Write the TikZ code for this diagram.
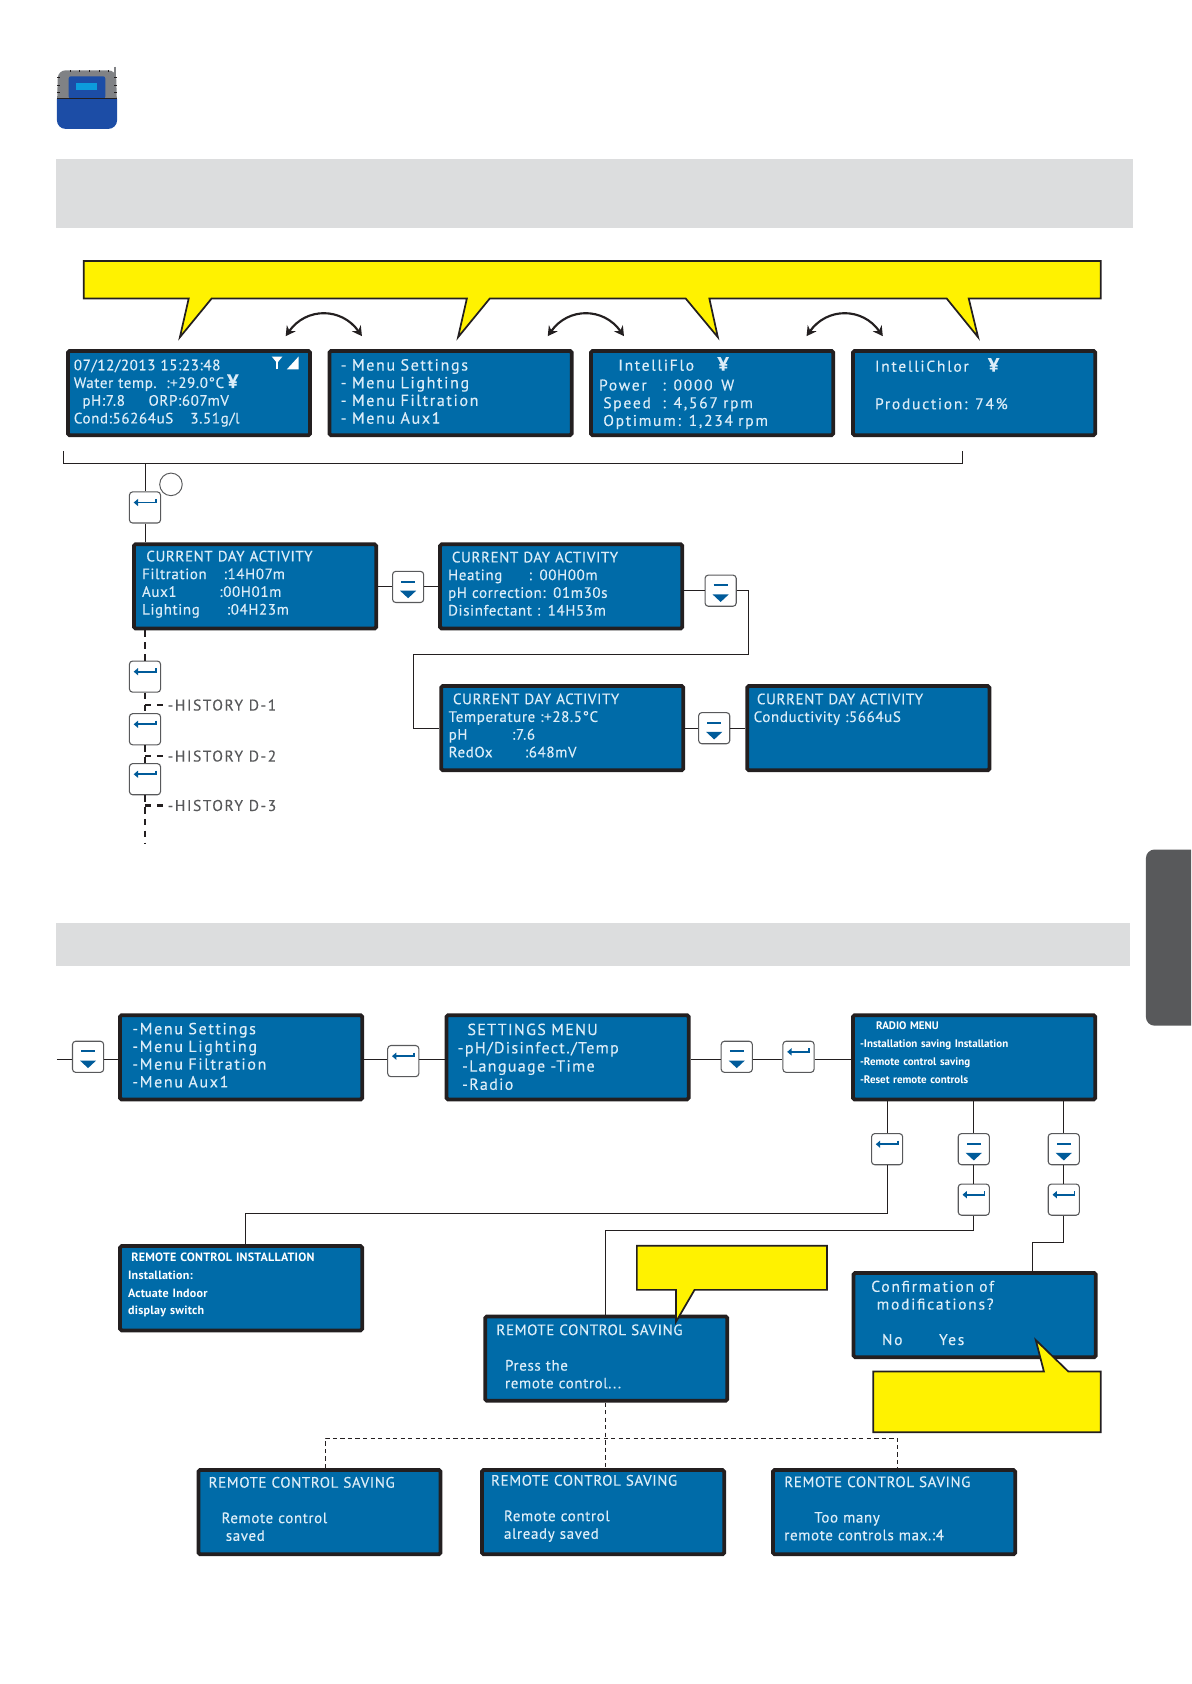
\documentclass[tikz,border=0pt]{standalone}
\usepackage{fontspec}
\usetikzlibrary{arrows.meta}
\setmainfont{PT Sans}
\newfontfamily\lcdfont[LetterSpace=4,FakeBold=0.25]{PT Sans}
\newfontfamily\lcdwide[LetterSpace=8,FakeBold=0.25]{PT Sans}
\newfontfamily\lcdwider[LetterSpace=10,FakeBold=0.25]{PT Sans}
\newfontfamily\lcdwidest[LetterSpace=11,FakeBold=0.25]{PT Sans}
\newfontfamily\lcdtight[LetterSpace=0]{PT Sans}
\definecolor{lcdblue}{HTML}{006BA8}
\definecolor{lcdtext}{HTML}{DCEDF8}
\definecolor{ink}{HTML}{231F20}
\definecolor{keyblue}{HTML}{005B9A}
\definecolor{keyline}{HTML}{58595B}
\definecolor{bandgrey}{HTML}{DCDDDE}
\definecolor{tabgrey}{HTML}{58595B}
\definecolor{noteyellow}{HTML}{FFF200}
\definecolor{devblue}{HTML}{1C4DA6}
\definecolor{devgrey}{HTML}{808285}
\definecolor{devcyan}{HTML}{0C9CDC}
\newcommand{\yenmark}{{\fontsize{18}{16.5}\selectfont\bfseries ¥}}
\newcommand{\liftup}[1]{\par\kern#1}
\tikzset{
	lcd/.style={draw=ink,fill=lcdblue,line width=3.5pt,rounded corners=1.5pt,minimum width=225.5pt,minimum height=78.5pt,
		inner xsep=5.5pt,inner ysep=0pt,text width=214.5pt,align=left,text=lcdtext,font=\lcdfont\fontsize{14}{16.5}\selectfont},
	keybox/.style={draw=keyline,fill=white,line width=1pt,rounded corners=3pt,minimum size=29pt,inner sep=0pt},
	enterkey/.style={keybox,path picture={
		\draw[sharp corners,keyblue,line width=1.7pt] ([xshift=10pt,yshift=8pt]path picture bounding box.center) -- ([xshift=10pt,yshift=4.6pt]path picture bounding box.center) -- ([xshift=-7pt,yshift=4.6pt]path picture bounding box.center);
		\fill[sharp corners,keyblue] ([xshift=-10.5pt,yshift=4.6pt]path picture bounding box.center) -- ([xshift=-6.5pt,yshift=8pt]path picture bounding box.center) -- ([xshift=-6.5pt,yshift=1.2pt]path picture bounding box.center) -- cycle;}},
	downkey/.style={keybox,path picture={
		\draw[sharp corners,keyblue,line width=1.8pt] ([xshift=-6.5pt,yshift=5pt]path picture bounding box.center) -- ([xshift=6.5pt,yshift=5pt]path picture bounding box.center);
		\fill[sharp corners,keyblue] ([xshift=-7.5pt,yshift=-3.5pt]path picture bounding box.center) -- ([xshift=7.5pt,yshift=-3.5pt]path picture bounding box.center) -- ([yshift=-10.5pt]path picture bounding box.center) -- cycle;}},
	wire/.style={draw=ink,line width=.9pt},
	dashwire/.style={draw=ink,line width=.9pt,dash pattern=on 4pt off 3pt},
	histwire/.style={draw=ink,line width=2.2pt,dash pattern=on 6pt off 5pt},
	callout/.style={draw=ink,fill=noteyellow,line width=1.6pt,line join=miter},
	histlabel/.style={anchor=west,inner sep=0pt,text=keyline,font=\lcdwider\fontsize{14.5}{16}\selectfont},
}
\begin{document}
\begin{tikzpicture}[x=1pt,y=-1pt]
	\useasboundingbox (0,0) rectangle (1109,1568);
	% device icon
	\draw[devgrey,line width=1.2pt] (107,62) -- (107,72);
	\fill[devgrey,rounded corners=7pt] (53,100) -- (54,65.5) -- (108,65.5) -- (109,100) -- cycle;
	\foreach \x in {65,74,83,92,101}
		\draw[ink,line width=.5pt] (\x,65.5) -- (\x,67.5);
	\foreach \y in {72,79,86}{
		\draw[ink,line width=.5pt] (53.5,\y) -- (55.5,\y);
		\draw[ink,line width=.5pt] (106.5,\y) -- (108.5,\y);
	}
	\fill[devblue] (109,92) [rounded corners=8pt] -- (109,120) -- (53,120) [sharp corners] -- (53,92) -- cycle;
	\fill[devblue,rounded corners=2pt] (64,71) -- (98,71) -- (98,92) -- (64,92) -- cycle;
	\fill[devcyan] (71,77) rectangle (90.5,84);
	\draw[ink,line width=.6pt] (53,92) -- (109,92);
	% grey bands and side tab
	\fill[bandgrey] (52,148) rectangle (1055,212);
	\fill[bandgrey] (52,859) rectangle (1052,899);
	\fill[tabgrey] (1109,955) [rounded corners=8pt] -- (1067,955) -- (1067,791) [sharp corners] -- (1109,791) -- cycle;

	% first row of screens
	\node[lcd] (home) at (176,366) {07/12/2013 15:23:48\\Water temp.\hspace{9pt}:+29.0°C\hspace{3pt}\yenmark\\\hspace*{8pt}pH:7.8\hspace{22pt}ORP:607mV\\Cond:56264uS\hspace{16pt}3.51g/l};
	\node[lcd,font=\lcdwider\fontsize{15}{16.5}\selectfont] (menu) at (419.5,366) {\hspace*{5pt}- Menu Settings\\\hspace*{5pt}- Menu Lighting\\\hspace*{5pt}- Menu Filtration\\\hspace*{5pt}- Menu Aux1\liftup{3pt}};
	\node[lcd,font=\lcdwidest\fontsize{14.5}{16.5}\selectfont] (flo) at (663,366) {\vspace*{2pt}\hspace*{20pt}IntelliFlo\hspace{22pt}\yenmark\\\hspace*{2pt}\makebox[59pt][l]{Power}: 0000\hspace{8pt}W\\\hspace*{6pt}\makebox[55pt][l]{Speed}: 4,567 rpm\\\hspace*{6pt}Optimum: 1,234 rpm};
	\node[lcd,font=\lcdwidest\fontsize{14.5}{16.5}\selectfont] (chlor) at (907,366) {\vspace*{2pt}\hspace*{15pt}IntelliChlor\hspace{18pt}\yenmark\\~\\\hspace*{15pt}Production: 74\%\\~\liftup{1pt}};
	\draw[white,line width=1.6pt] (258,344) -- (258,335);
	\fill[white] (253,332) -- (263,332) -- (258,338) -- cycle;
	\fill[white] (267,344) -- (278,344) -- (278,332) -- cycle;

	% swap arrows between the screens
	\foreach \x in {266,510,751}
		\draw[ink,line width=2pt,{Stealth[length=9pt,width=10pt]}-{Stealth[length=9pt,width=10pt]}] (\x,313) .. controls (\x+19,286) and (\x+52,286) .. (\x+71,313);
	% long note over the screens
	\draw[callout] (78,243) -- (1025,243) -- (1025,278) -- (902,278) -- (910.7,314) -- (881.5,278) -- (660.5,278) -- (668.4,314) -- (638.5,278) -- (456,278) -- (426.5,314) -- (434.7,278) -- (197,278) -- (167.5,314) -- (175.7,278) -- (78,278) -- cycle;

	% daily activity screens
	\coordinate (bracketL) at (59,420);
	\coordinate (bracketR) at (896,420);
	\coordinate (bracketbar) at (135,432);
	\draw[wire] (bracketL) -- ++(0,12) -| (bracketR);
	\node[enterkey] (keyA) at (135,472.5) {};
	\draw[wire,draw=keyline] (159.2,451) circle (10.5);
	\node[lcd] (actA) at (237.5,546) {\hspace*{6pt}CURRENT DAY ACTIVITY\\\hspace*{2pt}\makebox[76pt][l]{Filtration}:14H07m\\\hspace*{2pt}\makebox[72pt][l]{Aux1}:00H01m\\\hspace*{2pt}\makebox[79pt][l]{Lighting}:04H23m\liftup{4pt}};
	\node[lcd] (actB) at (522.5,546) {\hspace*{5.5pt}CURRENT DAY ACTIVITY\\\hspace*{2pt}\makebox[75pt][l]{Heating}: 00H00m\\\hspace*{2pt}pH correction: 01m30s\\\hspace*{2pt}Disinfectant : 14H53m\liftup{5pt}};
	\node[lcd] (actC) at (523.5,678) {\hspace*{5.5pt}CURRENT DAY ACTIVITY\\\hspace*{1.5pt}Temperature :+28.5°C\\\hspace*{1.5pt}\makebox[59pt][l]{pH}:7.6\\\hspace*{1.5pt}\makebox[71pt][l]{RedOx}:648mV\liftup{5pt}};
	\node[lcd] (actD) at (808.5,678) {\hspace*{3.5pt}CURRENT DAY ACTIVITY\\\hspace*{.5pt}Conductivity :5664uS\\~\\~\liftup{5pt}};
	\node[downkey] (keyD1) at (380,546.5) {};
	\node[downkey] (keyD2) at (671,550) {};
	\node[downkey] (keyD3) at (665,678) {};
	\coordinate (turnA) at (697,609);
	\coordinate (turnB) at (385,609);
	\draw[wire] (keyA |- bracketbar) -- (keyA.north);
	\draw[wire] (keyA.south) -- (keyA |- actA.north);
	\draw[wire] (keyD1 -| actA.east) -- (keyD1.west);
	\draw[wire] (keyD1.east) -- (keyD1 -| actB.west);
	\draw[wire] (keyD2 -| actB.east) -- (keyD2.west);
	\draw[wire] (keyD2.east) -| (turnA) -- (turnB) |- (actC.west);
	\draw[wire] (actC.east) -- (keyD3.west);
	\draw[wire] (keyD3.east) -- (actD.west);

	% history of previous days
	\node[enterkey] (keyB) at (135,630) {};
	\node[enterkey] (keyC) at (135,679) {};
	\node[enterkey] (keyE) at (135,725.5) {};
	\node[histlabel] (histA) at (156,656.5) {-HISTORY D-1};
	\node[histlabel] (histB) at (156,704) {-HISTORY D-2};
	\node[histlabel] (histC) at (156,750) {-HISTORY D-3};
	\coordinate (histend) at (135,786);
	\draw[histwire] (keyB |- actA.south) -- (keyB.north);
	\draw[histwire] (keyB.south) -- (keyC.north);
	\draw[histwire] (keyC.south) -- (keyE.north);
	\draw[histwire] (keyE.south) -- (histend);
	\draw[histwire] (keyB |- histA) -- (histA.west);
	\draw[histwire] (keyB |- histB) -- (histB.west);
	\draw[histwire] (keyB |- histC) -- (histC.west);

	% settings row
	\coordinate (rowstart) at (53,986.5);
	\node[downkey] (keyF) at (82,984) {};
	\node[lcd,font=\lcdwider\fontsize{15}{16.5}\selectfont] (menuB) at (224.5,984.5) {\hspace*{6pt}-Menu Settings\\\hspace*{6pt}-Menu Lighting\\\hspace*{6pt}-Menu Filtration\\\hspace*{6pt}-Menu Aux1\liftup{4pt}};
	\node[enterkey] (keyG) at (375.5,988) {};
	\node[lcd,font=\lcdwide\fontsize{15}{17}\selectfont] (settings) at (528.5,984.5) {\hspace*{14pt}SETTINGS MENU\\\hspace*{5pt}-pH/Disinfect./Temp\\\hspace*{9pt}-Language -Time\\\hspace*{9pt}-Radio\liftup{1pt}};
	\node[downkey] (keyH) at (686,984) {};
	\node[enterkey] (keyI) at (743.5,984) {};
	\node[lcd,text=white,font=\lcdtight\bfseries\fontsize{10.2}{16.7}\selectfont] (radio) at (907,984.5) {\hspace*{16pt}RADIO MENU\\\hspace*{1pt}-Installation saving Installation\\\hspace*{1pt}-Remote control saving\\\hspace*{1pt}-Reset remote controls\liftup{9pt}};
	\draw[wire] (rowstart) -- (rowstart -| keyF.west);
	\draw[wire] (rowstart -| keyF.east) -- (rowstart -| menuB.west);
	\draw[wire] (rowstart -| menuB.east) -- (rowstart -| keyG.west);
	\draw[wire] (rowstart -| keyG.east) -- (rowstart -| settings.west);
	\draw[wire] (rowstart -| settings.east) -- (rowstart -| keyH.west);
	\draw[wire] (rowstart -| keyH.east) -- (rowstart -| keyI.west);
	\draw[wire] (rowstart -| keyI.east) -- (rowstart -| radio.west);

	% radio menu branches
	\node[enterkey] (keyJ) at (826,1070) {};
	\node[downkey] (keyK) at (906.7,1070) {};
	\node[enterkey] (keyL) at (906.7,1117) {};
	\node[downkey] (keyM) at (990.5,1070) {};
	\node[enterkey] (keyN) at (990.5,1117) {};
	\node[lcd,text=white,font=\lcdtight\bfseries\fontsize{11.2}{16.7}\selectfont] (install) at (224.5,1199.5) {\hspace*{5pt}\addfontfeatures{LetterSpace=2}REMOTE CONTROL INSTALLATION\\\hspace*{2pt}\addfontfeatures{LetterSpace=2}Installation:\\\hspace*{2pt}\addfontfeatures{LetterSpace=2}Actuate Indoor\\\hspace*{2pt}\addfontfeatures{LetterSpace=2}display switch\liftup{6pt}};
	\node[lcd] (pressed) at (564.5,1265) {\hspace*{5pt}REMOTE CONTROL SAVING\\~\\\hspace*{13pt}Press the\\\hspace*{13pt}remote control...\liftup{4pt}};
	\node[lcd,font=\lcdwidest\fontsize{14.5}{16.5}\selectfont] (confirm) at (907.5,1224.5) {\hspace*{11pt}Confirmation of\\\hspace*{16pt}modifications?\\~\\\hspace*{21pt}No\hspace{34pt}Yes\liftup{4pt}};
	\node[lcd] (saved) at (297.5,1408) {\hspace*{4pt}REMOTE CONTROL SAVING\\~\\\hspace*{16pt}Remote control\\\hspace*{20pt}saved\liftup{6pt}};
	\node[lcd] (already) at (561.5,1408) {\hspace*{3pt}REMOTE CONTROL SAVING\\~\\\hspace*{15pt}Remote control\\\hspace*{15pt}already saved\liftup{7pt}};
	\node[lcd] (toomany) at (832.5,1408) {\hspace*{5pt}REMOTE CONTROL SAVING\\~\\\hspace*{33pt}Too many\\\hspace*{5pt}remote controls max.:4\liftup{7pt}};
	\coordinate (busJ) at (228.5,1130);
	\coordinate (busL) at (563.5,1145.5);
	\coordinate (busN) at (961,1156.5);
	\draw[wire] (keyJ |- radio.south) -- (keyJ.north);
	\draw[wire] (keyK |- radio.south) -- (keyK.north);
	\draw[wire] (keyM |- radio.south) -- (keyM.north);
	\draw[wire] (keyK.south) -- (keyL.north);
	\draw[wire] (keyM.south) -- (keyN.north);
	\draw[wire] (keyJ.south) |- (busJ) -- (busJ |- install.north);
	\draw[wire] (keyL.south) |- (busL) -- (busL |- pressed.north);
	\draw[wire] (keyN.south) |- (busN) -- (busN |- confirm.north);

	% outcomes of the saving screen
	\coordinate (dashL) at (303,1339);
	\coordinate (dashM) at (563.5,1339);
	\coordinate (dashR) at (835.7,1339);
	\draw[dashwire] (dashM |- pressed.south) -- (dashM |- already.north);
	\draw[dashwire] (dashL |- saved.north) -- (dashL) -- (dashR) -- (dashR |- toomany.north);

	% small notes
	\draw[callout] (593,1160) -- (770,1160) -- (770,1201) -- (646.7,1201) -- (629.5,1230.6) -- (629.5,1201) -- (593,1201) -- cycle;
	\draw[callout] (813,1277) -- (972,1277) -- (964.4,1247.7) -- (994.7,1277) -- (1025,1277) -- (1025,1333.5) -- (813,1333.5) -- cycle;
\end{tikzpicture}
\end{document}
